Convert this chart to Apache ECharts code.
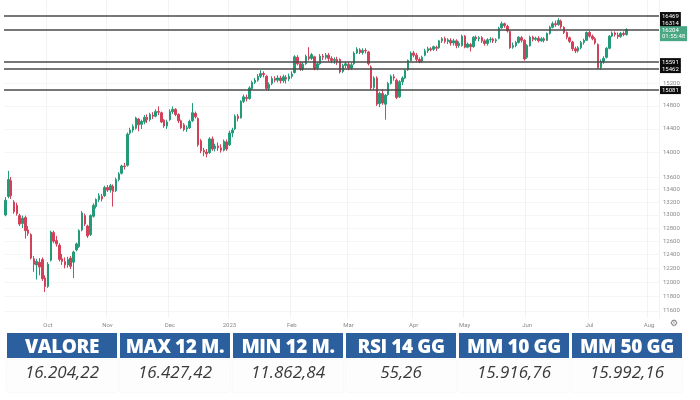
<!DOCTYPE html>
<html>
<head>
<meta charset="utf-8">
<script src="https://cdn.jsdelivr.net/npm/echarts@6/dist/echarts.min.js"></script>
<style>
  html, body { margin: 0; padding: 0; background: #fff; }
  #wrap { position: relative; width: 700px; height: 400px; overflow: hidden; }
  #chart { position: absolute; left: 0; top: 0; width: 700px; height: 400px; }
  .stats { position: absolute; left: 7px; top: 333px; display: flex; gap: 3px; }
  .cell { width: 110px; }
  .head {
    background: #2b5f9e; color: #fff; text-align: center;
    font: 800 19px 'Open Sans', sans-serif; height: 25px; line-height: 26px;
    white-space: nowrap; letter-spacing: -0.4px;
  }
  .val {
    margin-top: 2px; height: 32px; line-height: 32px; text-align: center;
    font: italic 400 17px 'Open Sans', sans-serif; color: #3a3a3a;
    background: #fdfdfd; box-shadow: 0 0 2px rgba(0,0,0,0.08);
  }
</style>
</head>
<body>
<div id="wrap">
  <div id="chart"></div>
  <div class="stats" id="stats"></div>
</div>
<script>
// trading days shown on the time axis (last ones have no candle yet)
const TRADING_DAYS = {
  '2022-09': [12,13,14,15,16,19,20,21,22,23,26,27,28,29,30],
  '2022-10': [3,4,5,6,7,10,11,12,13,14,17,18,19,20,21,24,25,26,27,28,31],
  '2022-11': [1,2,3,4,7,8,9,10,11,14,15,16,17,18,21,22,23,24,25,28,29,30],
  '2022-12': [1,2,5,6,7,8,9,12,13,14,15,16,19,20,21,22,23,27,28,29,30],
  '2023-01': [2,3,4,5,6,9,10,11,12,13,16,17,18,19,20,23,24,25,26,27,30,31],
  '2023-02': [1,2,3,6,7,8,9,10,13,14,15,16,17,20,21,22,23,24,27,28],
  '2023-03': [1,2,3,6,7,8,9,10,13,14,15,16,17,20,21,22,23,24,27,28,29,30,31],
  '2023-04': [3,4,5,6,11,12,13,14,17,18,19,20,21,24,25,26,27,28],
  '2023-05': [2,3,4,5,8,9,10,11,12,15,16,17,18,19,22,23,24,25,26,29,30,31],
  '2023-06': [1,2,5,6,7,8,9,12,13,14,15,16,19,20,21,22,23,26,27,28,29,30],
  '2023-07': [3,4,5,6,7,10,11,12,13,14,17,18,19,20,21,24,25,26,27,28,31],
  '2023-08': [1,2,3,4],
}

// daily candles: [open, close, low, high]
const CANDLES = [
  [13000,13230,12980,13280],[13290,13560,13260,13700],[13540,13300,13250,13600],[13200,13050,13020,13230],
  [13150,13020,12990,13190],[12990,12860,12830,13020],[12870,12950,12800,12990],[12960,12760,12640,12990],
  [12770,12720,12680,12830],[12700,12350,12330,12720],[12340,12260,12150,12380],[12250,12300,12040,12340],
  [12290,12220,12100,12350],[12330,12050,12020,12360],[12060,11940,11862,12100],[11940,12260,11920,12290],
  [12320,12740,12300,12760],[12730,12600,12570,12760],[12610,12560,12520,12680],[12540,12330,12300,12570],
  [12340,12300,12250,12410],[12300,12250,12200,12360],[12250,12330,12210,12370],[12350,12230,12190,12380],
  [12290,12440,12060,12460],[12470,12560,12450,12580],[12520,12760,12500,12780],[12770,13030,12750,13060],
  [12990,12860,12830,13020],[12830,12680,12650,12850],[12700,12990,12680,13010],[12980,13150,12960,13180],
  [13130,13240,13100,13260],[13240,13300,13200,13340],[13290,13250,13210,13330],[13300,13430,13280,13460],
  [13430,13390,13360,13470],[13390,13460,13350,13490],[13450,13370,13130,13480],[13380,13560,13360,13590],
  [13560,13650,13530,13680],[13660,13780,13640,13800],[13780,13770,13720,13830],[13790,14310,13770,14340],
  [14330,14380,14300,14420],[14380,14440,14340,14480],[14410,14590,14390,14610],[14570,14470,14360,14590],
  [14480,14530,14400,14560],[14520,14600,14480,14640],[14600,14560,14500,14650],[14560,14650,14530,14680],
  [14640,14620,14570,14690],[14620,14700,14600,14740],[14700,14690,14640,14790],[14680,14520,14500,14700],
  [14550,14450,14420,14570],[14450,14520,14400,14560],[14560,14700,14540,14740],[14700,14740,14660,14790],
  [14740,14650,14620,14760],[14650,14540,14500,14670],[14540,14420,14400,14560],[14470,14390,14360,14500],
  [14400,14420,14350,14460],[14420,14530,14400,14560],[14540,14680,14520,14850],[14670,14610,14580,14700],
  [14580,14130,14100,14600],[14200,14030,13990,14230],[14040,14010,13940,14080],[14010,13980,13920,14060],
  [14000,14230,13980,14260],[14230,14060,14030,14270],[14070,14110,14020,14150],[14110,14080,14030,14170],
  [14080,14040,14000,14140],[14040,14190,14020,14220],[14180,14060,14030,14220],[14130,14330,14110,14370],
  [14330,14380,14260,14420],[14400,14620,14380,14650],[14620,14580,14530,14660],[14590,14880,14580,14900],
  [14880,14960,14850,15000],[14950,14930,14880,15000],[14930,15120,14910,15150],[15110,15220,15080,15250],
  [15220,15260,15190,15300],[15260,15330,15230,15370],[15330,15380,15300,15440],[15380,15360,15310,15420],
  [15330,15110,15080,15350],[15110,15180,15070,15220],[15200,15290,15170,15330],[15290,15260,15220,15330],
  [15260,15300,15220,15350],[15300,15250,15200,15340],[15250,15320,15210,15360],[15310,15280,15200,15350],
  [15280,15330,15240,15380],[15330,15370,15290,15420],[15400,15690,15380,15720],[15680,15560,15530,15720],
  [15560,15460,15430,15600],[15460,15550,15430,15590],[15560,15700,15540,15730],[15690,15660,15620,15870],
  [15660,15730,15630,15760],[15690,15470,15440,15710],[15480,15560,15440,15600],[15560,15700,15540,15740],
  [15700,15680,15630,15740],[15680,15720,15640,15760],[15720,15660,15600,15760],[15660,15620,15570,15700],
  [15620,15640,15560,15680],[15640,15600,15540,15690],[15640,15410,15380,15660],[15420,15530,15390,15560],
  [15530,15560,15480,15600],[15550,15480,15440,15590],[15480,15540,15450,15580],[15560,15760,15540,15790],
  [15760,15830,15740,15870],[15820,15770,15740,15850],[15770,15810,15730,15850],[15810,15800,15750,15850],
  [15780,15560,15530,15800],[15500,15120,15080,15530],[15130,15300,15080,15330],[15300,14830,14800,15330],
  [14840,15020,14780,15050],[15020,14850,14820,15100],[14830,14990,14560,15010],[15000,15200,14980,15230],
  [15200,15330,15180,15360],[15320,15300,15250,15370],[15260,14950,14920,15290],[14960,15230,14940,15260],
  [15230,15300,15170,15330],[15300,15440,15280,15460],[15450,15620,15430,15640],[15620,15760,15600,15790],
  [15760,15720,15680,15800],[15720,15640,15600,15760],[15640,15600,15570,15680],[15610,15680,15580,15710],
  [15720,15800,15700,15840],[15800,15840,15760,15880],[15840,15820,15790,15870],[15830,15880,15800,15900],
  [15870,15850,15800,15900],[15860,15990,15840,16010],[15990,16030,15950,16060],[16030,15980,15940,16070],
  [15980,16010,15930,16040],[16000,15950,15900,16040],[15950,15990,15900,16030],[15990,15900,15850,16020],
  [15900,15940,15860,15980],[15900,16080,15880,16110],[16080,15870,15850,16100],[15870,15930,15850,15960],
  [15920,15880,15790,15950],[15880,16060,15860,16080],[16060,16030,15990,16090],[16030,16050,15980,16080],
  [16050,15990,15950,16080],[15990,15940,15900,16020],[15940,16010,15900,16040],[16010,16020,15960,16060],
  [16020,15990,15950,16050],[15990,16010,15950,16040],[16040,16230,16020,16260],[16240,16320,16220,16360],
  [16320,16280,16240,16340],[16270,16180,16150,16300],[16170,15860,15840,16190],[15870,15900,15840,15960],
  [15900,15960,15870,15990],[15960,16060,15940,16080],[16050,16000,15960,16080],[16000,15650,15620,16020],
  [15680,15900,15650,15930],[15900,16060,15880,16090],[16060,16020,15980,16090],[16020,16040,15990,16070],
  [16040,15990,15960,16080],[15990,16030,15970,16060],[16030,16000,15960,16060],[16000,16130,15990,16150],
  [16130,16250,16110,16280],[16250,16320,16230,16360],[16320,16300,16260,16380],[16300,16380,16280,16427.42],
  [16370,16260,16220,16400],[16250,16150,16120,16270],[16150,16060,16020,16170],[16050,15980,15950,16070],
  [15970,15840,15800,15990],[15840,15800,15760,15880],[15800,15860,15770,15890],[15860,15960,15830,15990],
  [15960,16000,15920,16030],[16000,16150,15990,16170],[16150,16080,16050,16180],[16080,16030,16000,16110],
  [16030,15950,15920,16060],[15920,15490,15460,15940],[15490,15600,15450,15640],[15600,15660,15560,15700],
  [15680,15850,15660,15870],[15850,16080,15830,16100],[16080,16140,16060,16170],[16140,16110,16070,16170],
  [16100,16070,16030,16150],[16070,16130,16050,16160],[16130,16110,16080,16170],[16110,16204.22,16090,16230],
]

// price scale
const Y_MIN = 11501
const Y_MAX = 16786
const Y_TICKS = [15200, 14800, 14400, 14000, 13600, 13400, 13200, 13000, 12800, 12600, 12400, 12200, 12000, 11800, 11600]

// horizontal levels drawn on the chart, and the extra label without a line
const LEVELS = [16469, 15591, 15462, 15081]
const EXTRA_LABEL = 16314
const LAST_PRICE = 16204.22
const COUNTDOWN = '01:55:48'

const MONTHS = ['Jan','Feb','Mar','Apr','May','Jun','Jul','Aug','Sep','Oct','Nov','Dec']

// summary table
const STAT_TITLES = ['VALORE', 'MAX 12 M.', 'MIN 12 M.', 'RSI 14 GG', 'MM 10 GG', 'MM 50 GG']
const STAT_VALUES = ['16.204,22', '16.427,42', '11.862,84', '55,26', '15.916,76', '15.992,16']

const UP = '#239a78'
const DOWN = '#d2405a'

const dates = []
Object.keys(TRADING_DAYS).forEach(ym => {
  TRADING_DAYS[ym].forEach(d => dates.push(`${ym}-${String(d).padStart(2, '0')}`))
})

const isMonthStart = idx =>
  idx > 0 && dates[idx].slice(0, 7) !== dates[idx - 1].slice(0, 7)

function monthLabel(val) {
  const [y, m] = val.split('-')
  return m === '01' ? y : MONTHS[Number(m) - 1]
}

const blackLabel = {
  show: true, position: 'end', distance: 1,
  color: '#fff', backgroundColor: '#0c0c0c',
  fontSize: 6, fontFamily: 'Roboto, sans-serif', padding: [1, 2, 1, 2],
  formatter: p => String(Math.round(p.value)),
}

const chart = echarts.init(document.getElementById('chart'), null, { renderer: 'canvas' })

chart.setOption({
  animation: false,
  backgroundColor: '#fff',
  grid: { left: 4, right: 41, top: 0, bottom: 82 },
  xAxis: {
    type: 'category',
    data: dates,
    boundaryGap: true,
    axisLine: { show: false },
    axisTick: { show: false },
    axisLabel: {
      interval: idx => isMonthStart(idx),
      formatter: monthLabel,
      color: '#8a8a8a',
      fontSize: 6,
      fontFamily: 'Roboto, sans-serif',
      margin: 4,
    },
    splitLine: {
      show: true,
      interval: idx => isMonthStart(idx),
      lineStyle: { color: '#f3f3f3', width: 1 },
    },
  },
  yAxis: {
    type: 'log',
    logBase: 10,
    min: Y_MIN,
    max: Y_MAX,
    position: 'right',
    axisLine: { show: false },
    axisTick: { show: false, customValues: Y_TICKS },
    axisLabel: {
      customValues: Y_TICKS,
      color: '#8a8a8a',
      fontSize: 6,
      fontFamily: 'Roboto, sans-serif',
      margin: 4,
      formatter: v => String(v),
    },
    splitLine: { show: true, lineStyle: { color: '#f5f5f5', width: 1 } },
  },
  series: [
    {
      type: 'candlestick',
      data: CANDLES,
      barWidth: 2,
      itemStyle: {
        color: UP,
        color0: DOWN,
        borderColor: UP,
        borderColor0: DOWN,
        borderWidth: 1,
      },
      markLine: {
        silent: true,
        symbol: 'none',
        animation: false,
        lineStyle: { color: '#4a4a4a', width: 1.5, type: 'solid' },
        label: blackLabel,
        data: [
          ...LEVELS.map(v => ({ yAxis: v })),
          { yAxis: EXTRA_LABEL, lineStyle: { color: 'rgba(0,0,0,0)', width: 0 } },
          {
            yAxis: LAST_PRICE,
            label: {
              ...blackLabel,
              backgroundColor: '#4aa784',
              lineHeight: 6,
              padding: [2, 2, 1, 2],
              offset: [0, 4],
              formatter: () => `${Math.round(LAST_PRICE)}\n${COUNTDOWN}`,
            },
          },
        ],
      },
    },
  ],
  graphic: [
    {
      type: 'text', left: 670, top: 319,
      style: { text: '\u2699', fontSize: 9, fill: '#7a7a7a', fontFamily: 'DejaVu Sans' },
    },
  ],
})

// summary table under the chart
const stats = document.getElementById('stats')
STAT_TITLES.forEach((title, i) => {
  const cell = document.createElement('div')
  cell.className = 'cell'
  cell.innerHTML = `<div class="head">${title}</div><div class="val">${STAT_VALUES[i]}</div>`
  stats.appendChild(cell)
})
</script>
</body>
</html>
